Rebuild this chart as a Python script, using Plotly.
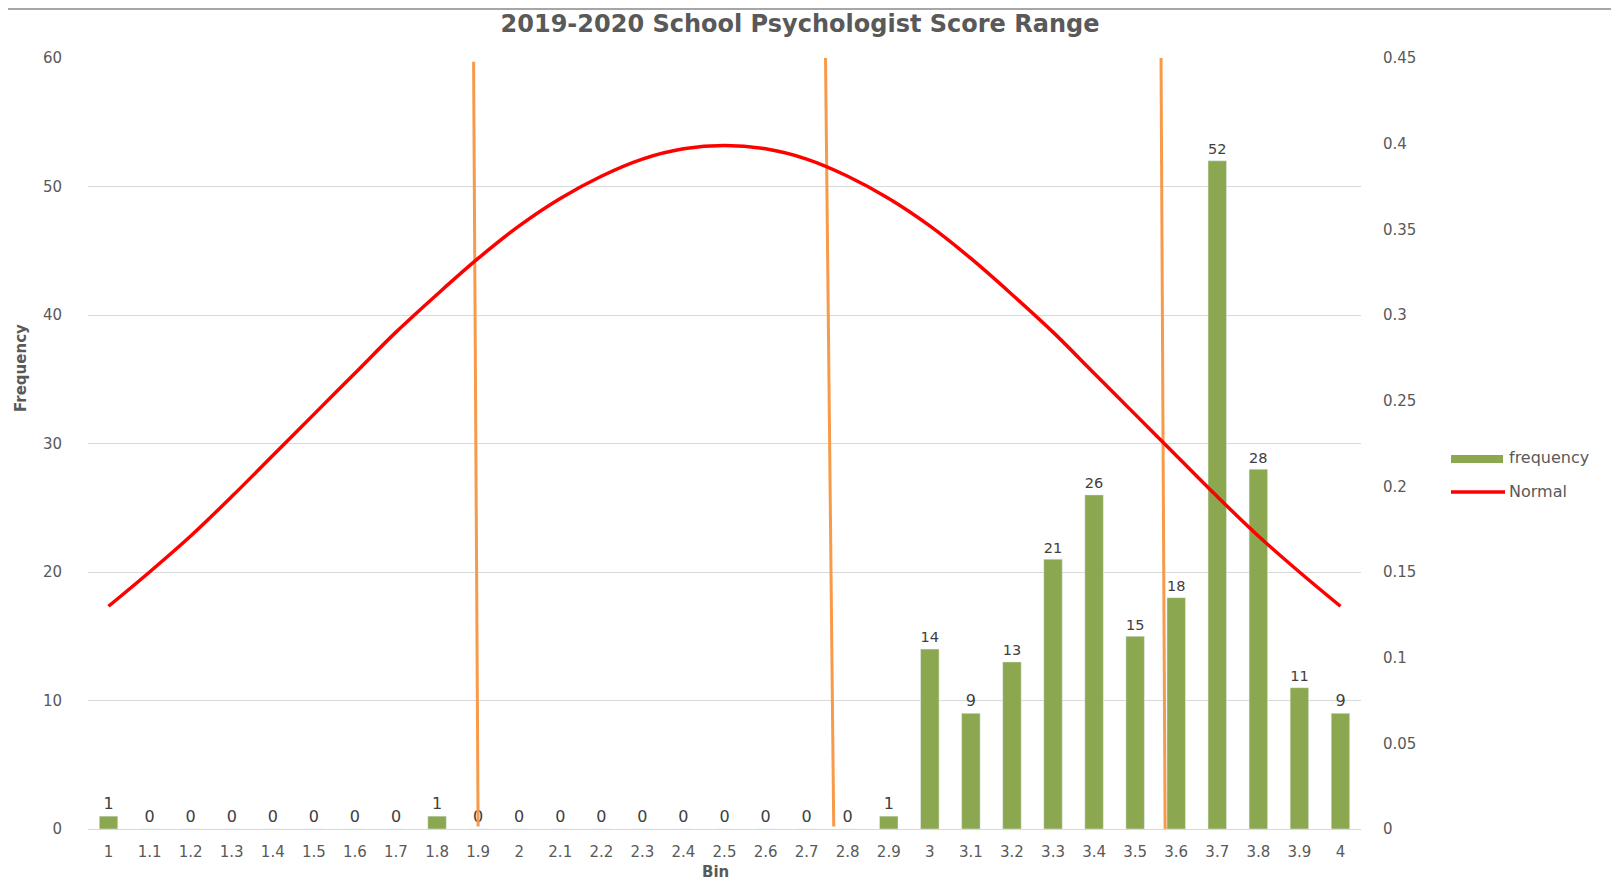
import plotly.graph_objects as go

# bins and counts
bins = [1.0, 1.1, 1.2, 1.3, 1.4, 1.5, 1.6, 1.7, 1.8, 1.9, 2.0,
        2.1, 2.2, 2.3, 2.4, 2.5, 2.6, 2.7, 2.8, 2.9, 3.0,
        3.1, 3.2, 3.3, 3.4, 3.5, 3.6, 3.7, 3.8, 3.9, 4.0]
bin_labels = ["1", "1.1", "1.2", "1.3", "1.4", "1.5", "1.6", "1.7", "1.8", "1.9", "2",
              "2.1", "2.2", "2.3", "2.4", "2.5", "2.6", "2.7", "2.8", "2.9", "3",
              "3.1", "3.2", "3.3", "3.4", "3.5", "3.6", "3.7", "3.8", "3.9", "4"]
frequency = [1, 0, 0, 0, 0, 0, 0, 0, 1, 0, 0,
             0, 0, 0, 0, 0, 0, 0, 0, 1, 14,
             9, 13, 21, 26, 15, 18, 52, 28, 11, 9]
# normal curve (right axis)
normal = [0.130, 0.150, 0.171, 0.194, 0.218, 0.242, 0.266, 0.290, 0.312, 0.333, 0.352,
          0.368, 0.381, 0.391, 0.397, 0.399, 0.397, 0.391, 0.381, 0.368, 0.352,
          0.333, 0.312, 0.290, 0.266, 0.242, 0.218, 0.194, 0.171, 0.150, 0.130]

# hand-drawn orange markers (slightly slanted): bin value at top / bottom, frequency at top / bottom
marker_x = [[1.889, 1.900], [2.746, 2.766], [3.563, 3.573]]
marker_y = [[59.7, 0.2], [60.0, 0.2], [60.2, 0.0]]

grey = "#595959"
green = "#8BA74F"
red = "#FF0000"
font_family = "DejaVu Sans"

# page body has an 8px margin, so the figure is 16px smaller than the window
W, H = 1603, 875
L, R, T, B = 80, 250, 50, 54
plot_w, plot_h = W - L - R, H - T - B


def px_x(x):
    # figure pixel -> paper x
    return (x - L) / plot_w


def px_y(y):
    # figure pixel -> paper y
    return (H - B - y) / plot_h


fig = go.Figure()

fig.add_trace(go.Bar(
    x=bins, y=frequency, name="frequency",
    width=0.045,
    marker_color=green,
    text=[str(v) for v in frequency],
    textposition="outside",
    textfont=dict(size=16, color="#404040"),
    cliponaxis=False,
))

fig.add_trace(go.Scatter(
    x=bins, y=normal, name="Normal", yaxis="y2",
    mode="lines", line=dict(color=red, width=3.5, shape="spline"),
))

for mx, my in zip(marker_x, marker_y):
    fig.add_trace(go.Scatter(
        x=mx, y=my, mode="lines", showlegend=False, hoverinfo="skip",
        line=dict(color="#F79A4A", width=3),
    ))

# custom legend, Excel style (wide swatches)
legend_shapes = [
    dict(type="rect", xref="paper", yref="paper",
         x0=px_x(1443), x1=px_x(1495), y0=px_y(455), y1=px_y(447),
         fillcolor=green, line=dict(width=0)),
    dict(type="line", xref="paper", yref="paper",
         x0=px_x(1443), x1=px_x(1497), y0=px_y(484), y1=px_y(484),
         line=dict(color=red, width=3.5)),
    # thin grey rule along the top of the picture
    dict(type="line", xref="paper", yref="paper",
         x0=px_x(0), x1=px_x(W), y0=px_y(1), y1=px_y(1),
         line=dict(color="#A6A6A6", width=2)),
]
annotations = [
    dict(text="frequency", x=px_x(1499), y=px_y(450), xref="paper", yref="paper",
         xanchor="left", yanchor="middle", showarrow=False,
         font=dict(size=16, color=grey)),
    dict(text="Normal", x=px_x(1499), y=px_y(483), xref="paper", yref="paper",
         xanchor="left", yanchor="middle", showarrow=False,
         font=dict(size=16, color=grey)),
    dict(text="<b>Frequency</b>", x=px_x(13), y=px_y(360), xref="paper", yref="paper",
         xanchor="center", yanchor="middle", textangle=-90, showarrow=False,
         font=dict(size=15, color=grey)),
    dict(text="<b>Bin</b>", x=px_x(707), y=px_y(864), xref="paper", yref="paper",
         xanchor="center", yanchor="middle", showarrow=False,
         font=dict(size=15, color=grey)),
]

fig.update_layout(
    width=W, height=H,
    paper_bgcolor="white", plot_bgcolor="white",
    font=dict(family=font_family, color=grey, size=15),
    title=dict(text="<b>2019-2020 School Psychologist Score Range</b>",
               x=792 / W, xanchor="center", y=1 - 16 / H, yanchor="middle",
               font=dict(size=24, color=grey)),
    margin=dict(l=L, r=R, t=T, b=B, autoexpand=False),
    showlegend=False,
    shapes=legend_shapes,
    annotations=annotations,
    xaxis=dict(
        range=[0.95, 4.05], automargin=False,
        tickmode="array", tickvals=bins, ticktext=bin_labels,
        showgrid=False, showline=True, linecolor="#D9D9D9", linewidth=1,
        ticks="outside", ticklen=9, tickcolor="white",
        tickfont=dict(size=15, color=grey),
    ),
    yaxis=dict(
        range=[0, 60], dtick=10, automargin=False,
        showgrid=True, gridcolor="#D9D9D9", gridwidth=1, zeroline=False,
        ticks="outside", ticklen=22, tickcolor="white",
        tickfont=dict(size=15, color=grey),
    ),
    yaxis2=dict(
        overlaying="y", side="right", automargin=False,
        range=[0, 0.45], dtick=0.05,
        showgrid=False, zeroline=False,
        ticks="outside", ticklen=18, tickcolor="white",
        tickfont=dict(size=15, color=grey),
    ),
)

fig.write_html("out.html")
